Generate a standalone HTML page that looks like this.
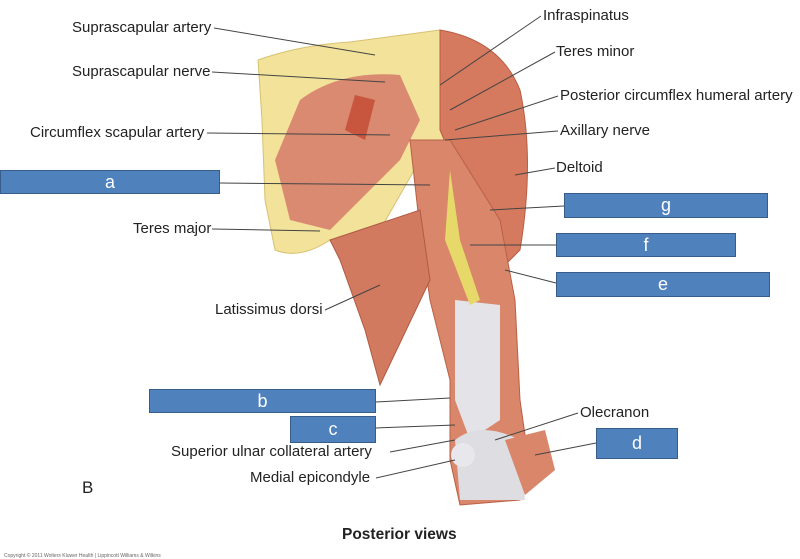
<!DOCTYPE html>
<html><head><meta charset="utf-8"><style>
html,body{margin:0;padding:0;background:#fff;}
#c{position:relative;width:800px;height:559px;overflow:hidden;font-family:"Liberation Sans",Arial,sans-serif;}
.l{position:absolute;font-size:15px;color:#222;white-space:nowrap;line-height:17px;}
.b{position:absolute;background:#4F81BD;border:1px solid #385D8A;color:#fff;font-size:18px;text-align:center;box-sizing:border-box;}
</style></head><body><div id="c">
<svg width="800" height="559" style="position:absolute;left:0;top:0">
<path d="M258,60 Q300,45 350,42 L440,30 Q470,40 465,80 L470,140 L420,160 L380,230 L330,240 Q300,260 275,250 L265,200 L262,120 Z" fill="#F3E29A" stroke="#d8c070"/>
<path d="M300,100 Q340,70 400,75 L420,120 L400,160 L360,200 L330,230 L290,220 L275,160 Z" fill="#D98A70"/>
<path d="M440,30 Q500,40 520,90 Q535,160 520,250 L500,270 L470,200 L440,130 Z" fill="#D57A5E" stroke="#b85c45"/>
<path d="M410,140 L450,140 L500,220 L515,300 L520,400 L530,470 L520,500 L460,505 L450,460 L450,380 L430,300 L420,230 Z" fill="#D9866B" stroke="#b86048"/>
<path d="M455,300 L500,305 L500,420 L470,440 L455,400 Z" fill="#E4E4E8"/>
<path d="M455,440 Q480,420 520,440 L525,500 L460,500 Z" fill="#DDDDE2"/>
<path d="M505,440 L545,430 L555,470 L525,495 Z" fill="#D9866B"/>
<path d="M330,240 L420,210 L430,280 L380,385 L365,330 L340,260 Z" fill="#D27A5F" stroke="#b05a44"/>
<path d="M450,170 L460,240 L480,300 L470,305 L445,240 Z" fill="#e7d86a"/>
<path d="M355,95 L375,100 L365,140 L345,130 Z" fill="#C8553D"/>
<circle cx="463" cy="455" r="12" fill="#E8E8EC"/>
<g stroke="#444" stroke-width="1" fill="none">
<line x1="214" y1="28" x2="375" y2="55"/>
<line x1="212" y1="72" x2="385" y2="82"/>
<line x1="207" y1="133" x2="390" y2="135"/>
<line x1="220" y1="183" x2="430" y2="185"/>
<line x1="212" y1="229" x2="320" y2="231"/>
<line x1="325" y1="310" x2="380" y2="285"/>
<line x1="390" y1="452" x2="455" y2="440"/>
<line x1="376" y1="478" x2="455" y2="460"/>
<line x1="376" y1="402" x2="450" y2="398"/>
<line x1="376" y1="428" x2="455" y2="425"/>
<line x1="541" y1="16" x2="440" y2="85"/>
<line x1="555" y1="52" x2="450" y2="110"/>
<line x1="558" y1="96" x2="455" y2="130"/>
<line x1="558" y1="131" x2="445" y2="140"/>
<line x1="555" y1="168" x2="515" y2="175"/>
<line x1="564" y1="206" x2="490" y2="210"/>
<line x1="556" y1="245" x2="470" y2="245"/>
<line x1="556" y1="283" x2="505" y2="270"/>
<line x1="578" y1="413" x2="495" y2="440"/>
<line x1="596" y1="443" x2="535" y2="455"/>
</g>
</svg>
<div class="l" style="left:72px;top:19px">Suprascapular artery</div>
<div class="l" style="left:72px;top:63px">Suprascapular nerve</div>
<div class="l" style="left:30px;top:124px">Circumflex scapular artery</div>
<div class="l" style="left:133px;top:220px">Teres major</div>
<div class="l" style="left:215px;top:301px">Latissimus dorsi</div>
<div class="l" style="left:171px;top:443px">Superior ulnar collateral artery</div>
<div class="l" style="left:250px;top:469px">Medial epicondyle</div>
<div class="l" style="left:82px;top:479px;font-size:17px">B</div>
<div class="l" style="left:543px;top:7px">Infraspinatus</div>
<div class="l" style="left:556px;top:43px">Teres minor</div>
<div class="l" style="left:560px;top:87px">Posterior circumflex humeral artery</div>
<div class="l" style="left:560px;top:122px">Axillary nerve</div>
<div class="l" style="left:556px;top:159px">Deltoid</div>
<div class="l" style="left:580px;top:404px">Olecranon</div>
<div class="l" style="left:342px;top:526px;font-weight:bold;font-size:15.5px">Posterior views</div>
<div class="l" style="left:4px;top:548px;font-size:5px;color:#666">Copyright © 2011 Wolters Kluwer Health | Lippincott Williams &amp; Wilkins</div>
<div class="b" style="left:0;top:170px;width:220px;height:24px;line-height:22px">a</div>
<div class="b" style="left:564px;top:193px;width:204px;height:25px;line-height:23px">g</div>
<div class="b" style="left:556px;top:233px;width:180px;height:24px;line-height:22px">f</div>
<div class="b" style="left:556px;top:272px;width:214px;height:25px;line-height:23px">e</div>
<div class="b" style="left:149px;top:389px;width:227px;height:24px;line-height:22px">b</div>
<div class="b" style="left:290px;top:416px;width:86px;height:27px;line-height:25px">c</div>
<div class="b" style="left:596px;top:428px;width:82px;height:31px;line-height:29px">d</div>
</div></body></html>
